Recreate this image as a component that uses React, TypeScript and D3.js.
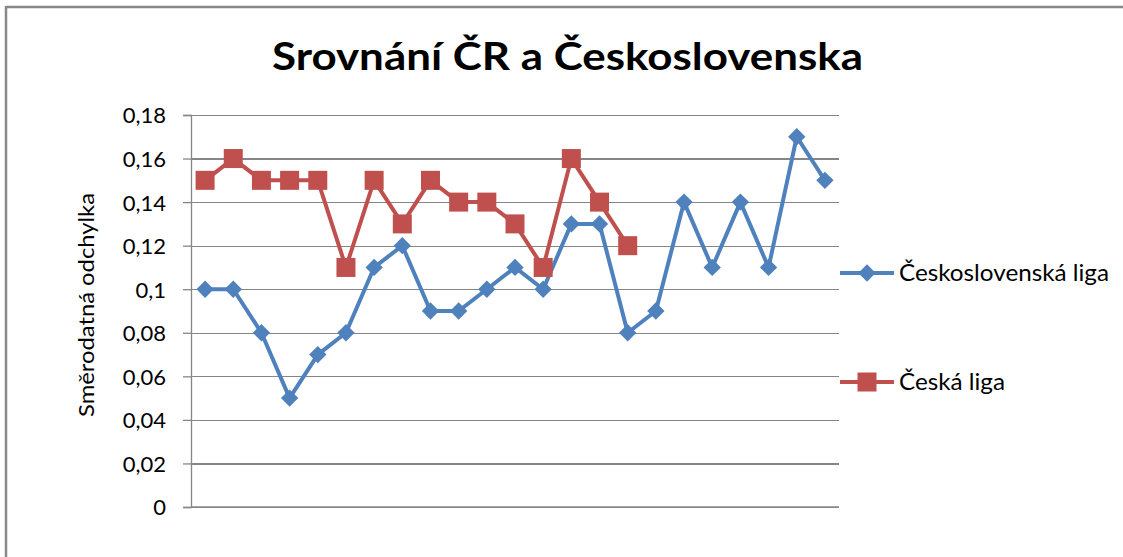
import React, { useEffect, useRef } from 'react';
import * as d3 from 'd3';

const seasons = d3.range(1, 24).map(String);
const czechoslovakLeague = [0.10, 0.10, 0.08, 0.05, 0.07, 0.08, 0.11, 0.12, 0.09, 0.09, 0.10, 0.11, 0.10, 0.13, 0.13, 0.08, 0.09, 0.14, 0.11, 0.14, 0.11, 0.17, 0.15];
const czechLeague = [0.15, 0.16, 0.15, 0.15, 0.15, 0.11, 0.15, 0.13, 0.15, 0.14, 0.14, 0.13, 0.11, 0.16, 0.14, 0.12];
const yTicks = [0, 0.02, 0.04, 0.06, 0.08, 0.1, 0.12, 0.14, 0.16, 0.18];
const seriesNames = ['Československá liga', 'Česká liga'];

const W = 1123;
const H = 557;
const FONT = 'Lato, "Open Sans", sans-serif';
const BLUE = '#4f81bd';
const RED = '#c0504d';
const GRID = '#868686';

const App = () => {
  const ref = useRef<SVGSVGElement | null>(null);

  useEffect(() => {
    const svg = d3.select(ref.current);
    svg.selectAll('*').remove();

    const plot = { left: 191, right: 839, top: 115, bottom: 507 };

    const x = d3.scaleBand().domain(seasons).range([plot.left, plot.right]);
    const cx = (i: number) => (x(seasons[i]) as number) + x.bandwidth() / 2;
    const y = d3.scaleLinear().domain([0, 0.18]).range([plot.bottom, plot.top]);

    // frame (only top and left edges show in the crop)
    svg.append('line').attr('x1', 6).attr('x2', W).attr('y1', 7).attr('y2', 7)
      .attr('stroke', '#888').attr('stroke-width', 2.5);
    svg.append('line').attr('x1', 6).attr('x2', 6).attr('y1', 6).attr('y2', H)
      .attr('stroke', '#888').attr('stroke-width', 2.5);

    // title
    svg.append('text')
      .attr('x', 567.5).attr('y', 70)
      .attr('text-anchor', 'middle')
      .attr('textLength', 591).attr('lengthAdjust', 'spacingAndGlyphs')
      .style('font-family', FONT).style('font-weight', 'bold').style('font-size', '38px')
      .attr('fill', '#000')
      .text('Srovnání ČR a Československa');

    // grid
    svg.append('g')
      .attr('transform', `translate(${plot.left},0)`)
      .call(d3.axisLeft(y).tickValues(yTicks).tickSize(-(plot.right - plot.left)).tickFormat(() => ''))
      .call(g => g.select('.domain').remove())
      .selectAll('line')
      .attr('stroke', GRID).attr('stroke-width', 1.3).style('shape-rendering', 'crispEdges');

    // y axis
    const fmt = (v: number) => String(+v.toFixed(2)).replace('.', ',');
    const yAxis = svg.append('g')
      .attr('transform', `translate(${plot.left},0)`)
      .call(d3.axisLeft(y).tickValues(yTicks).tickSize(8).tickPadding(17).tickFormat(d => fmt(+d)));
    yAxis.select('.domain').attr('stroke', GRID).attr('stroke-width', 1.3);
    yAxis.selectAll('line').attr('stroke', GRID).attr('stroke-width', 1.3);
    yAxis.selectAll('text')
      .style('font-family', FONT).style('font-size', '22px').attr('fill', '#000').attr('dy', '0.36em');

    // x axis baseline
    svg.append('line')
      .attr('x1', plot.left).attr('x2', plot.right)
      .attr('y1', y(0)).attr('y2', y(0))
      .attr('stroke', GRID).attr('stroke-width', 1.3);

    // y label
    svg.append('text')
      .attr('transform', 'translate(94,305) rotate(-90)')
      .attr('text-anchor', 'middle')
      .attr('textLength', 224).attr('lengthAdjust', 'spacingAndGlyphs')
      .style('font-family', FONT).style('font-size', '21px')
      .attr('fill', '#000')
      .text('Směrodatná odchylka');

    const line = d3.line<number>().x((_, i) => cx(i)).y(d => y(d));
    const diamond = d3.symbol().type(d3.symbolSquare).size(150);

    // Czechoslovak league
    svg.append('path').datum(czechoslovakLeague)
      .attr('d', line).attr('fill', 'none').attr('stroke', BLUE)
      .attr('stroke-width', 4).attr('stroke-linejoin', 'round');
    svg.append('g').selectAll('path').data(czechoslovakLeague).join('path')
      .attr('d', diamond)
      .attr('transform', (d, i) => `translate(${cx(i)},${y(d)}) rotate(45)`)
      .attr('fill', BLUE);

    // Czech league
    svg.append('path').datum(czechLeague)
      .attr('d', line).attr('fill', 'none').attr('stroke', RED)
      .attr('stroke-width', 4).attr('stroke-linejoin', 'round');
    svg.append('g').selectAll('rect').data(czechLeague).join('rect')
      .attr('x', (_, i) => cx(i) - 9.5).attr('y', d => y(d) - 9.5)
      .attr('width', 19).attr('height', 19)
      .attr('fill', RED);

    // legend
    const legendRows = [
      { name: seriesNames[0], color: BLUE, yPos: 273, len: 210 },
      { name: seriesNames[1], color: RED, yPos: 382, len: 106 },
    ];
    legendRows.forEach((row, idx) => {
      const g = svg.append('g').attr('transform', `translate(0,${row.yPos})`);
      g.append('line').attr('x1', 840).attr('x2', 894).attr('y1', 0).attr('y2', 0)
        .attr('stroke', row.color).attr('stroke-width', 4);
      if (idx === 0) {
        g.append('path').attr('d', diamond).attr('transform', 'translate(867,0) rotate(45)').attr('fill', row.color);
      } else {
        g.append('rect').attr('x', 857.5).attr('y', -9.5).attr('width', 19).attr('height', 19).attr('fill', row.color);
      }
      g.append('text')
        .attr('x', 899).attr('y', 8)
        .attr('textLength', row.len).attr('lengthAdjust', 'spacingAndGlyphs')
        .style('font-family', FONT).style('font-size', '23px')
        .attr('fill', '#000')
        .text(row.name);
    });
  }, []);

  return (
    <svg
      ref={ref}
      width={W}
      height={H}
      style={{ position: 'absolute', left: 0, top: 0, background: '#fff' }}
    />
  );
};

export default App;
